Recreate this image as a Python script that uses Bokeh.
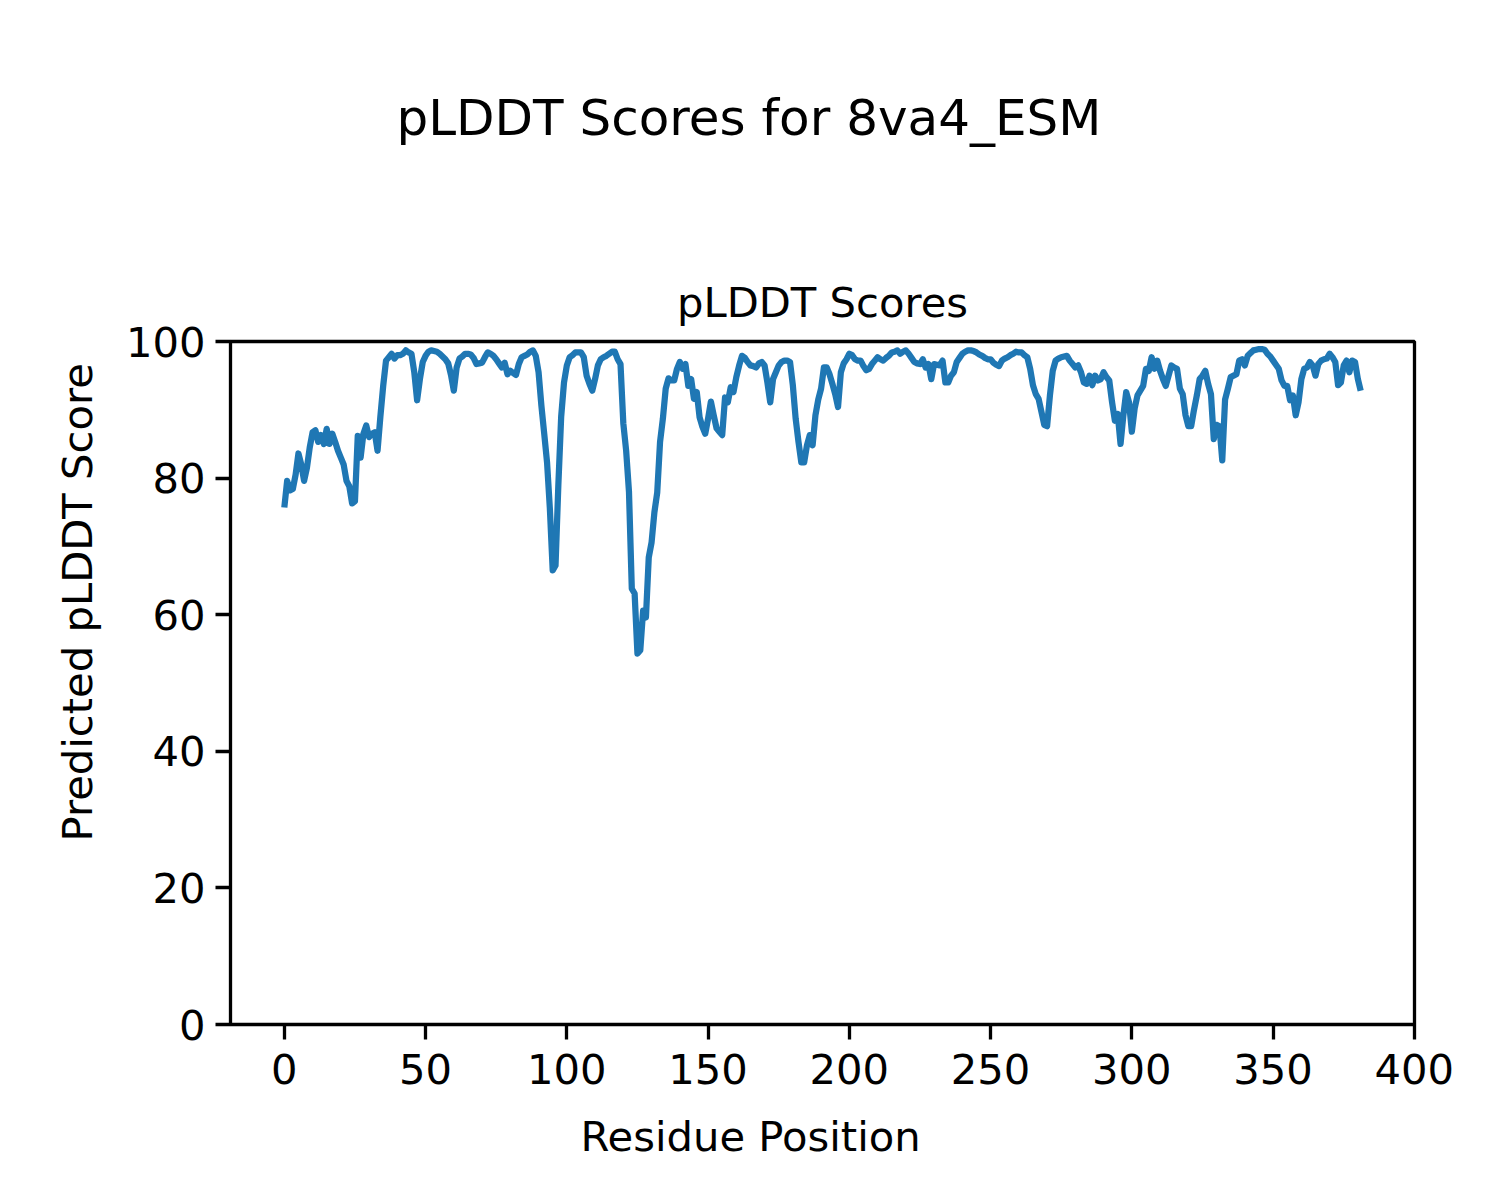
from bokeh.plotting import figure
from bokeh.models import Range1d, FixedTicker, Title
from bokeh.embed import file_html
from bokeh.resources import INLINE

suptitle = "pLDDT Scores for 8va4_ESM"
axes_title = "pLDDT Scores"
x_label = "Residue Position"
y_label = "Predicted pLDDT Score"
x_ticks = [0, 50, 100, 150, 200, 250, 300, 350, 400]
y_ticks = [0, 20, 40, 60, 80, 100]

scores_0_99 = [
    75.7, 79.6, 78.2, 78.4, 80.5, 83.6, 82.0, 79.6, 81.5, 84.5,
    86.7, 87.0, 85.3, 86.3, 85.0, 87.2, 85.0, 86.5, 85.3, 84.0,
    83.0, 82.0, 79.6, 78.8, 76.3, 76.6, 86.2, 83.0, 86.5, 87.7,
    86.0, 86.5, 86.7, 84.0, 89.0, 93.5, 97.2, 97.7, 98.2, 97.5,
    98.0, 98.0, 98.2, 98.7, 98.4, 98.2, 95.5, 91.4, 94.5, 97.0,
    97.9, 98.5, 98.7, 98.6, 98.5, 98.2, 97.8, 97.4, 96.8, 95.1,
    92.8, 96.2, 97.5, 97.8, 98.2, 98.2, 98.1, 97.6, 96.7, 96.8,
    96.9, 97.7, 98.4, 98.2, 97.9, 97.4, 96.8, 96.2, 96.9, 95.2,
    95.7, 95.4, 95.1, 96.7, 97.7, 97.9, 98.1, 98.5, 98.7, 97.9,
    95.5, 90.6, 86.5, 82.3, 75.5, 66.5, 67.2, 79.0, 89.0, 94.0,
]
scores_100_199 = [
    96.5, 97.7, 98.0, 98.4, 98.4, 98.4, 97.7, 95.0, 93.8, 92.8,
    94.5, 96.5, 97.4, 97.7, 97.9, 98.2, 98.5, 98.5, 97.4, 96.7,
    88.0, 84.0, 78.0, 63.8, 63.1, 54.3, 54.8, 60.6, 59.6, 68.4,
    70.6, 75.0, 77.9, 85.3, 88.7, 93.1, 94.6, 94.3, 94.3, 96.0,
    97.0, 96.0, 96.7, 93.5, 94.5, 91.6, 92.6, 88.9, 87.5, 86.5,
    88.7, 91.2, 89.2, 87.3, 86.8, 86.3, 91.8, 91.1, 93.3, 92.6,
    94.8, 96.5, 97.9, 97.6, 97.0, 96.5, 96.4, 96.2, 96.8, 97.0,
    96.5, 94.0, 91.1, 94.5, 95.5, 96.5, 97.0, 97.2, 97.2, 97.0,
    93.6, 88.7, 85.3, 82.3, 82.3, 84.8, 86.3, 84.8, 89.2, 91.5,
    93.1, 96.2, 96.2, 95.2, 93.8, 92.3, 90.4, 95.5, 96.8, 97.4,
]
scores_200_299 = [
    98.2, 98.0, 97.4, 97.2, 97.2, 96.4, 95.8, 96.0, 96.7, 97.2,
    97.7, 97.4, 97.2, 97.6, 97.9, 98.4, 98.5, 98.7, 98.2, 98.5,
    98.7, 98.2, 97.6, 97.0, 96.8, 96.7, 97.4, 96.2, 96.7, 94.5,
    96.7, 96.6, 96.5, 97.2, 94.0, 94.0, 95.0, 95.5, 97.0, 97.6,
    98.2, 98.5, 98.7, 98.7, 98.6, 98.4, 98.1, 97.9, 97.6, 97.4,
    97.4, 96.9, 96.6, 96.4, 97.2, 97.5, 97.7, 98.0, 98.2, 98.5,
    98.4, 98.4, 98.0, 97.7, 96.0, 93.6, 92.3, 91.6, 89.7, 87.8,
    87.6, 92.1, 95.7, 97.2, 97.5, 97.7, 97.8, 97.9, 97.2, 96.7,
    96.2, 96.5, 95.5, 94.0, 93.8, 95.0, 93.6, 95.0, 94.3, 94.5,
    95.5, 94.8, 94.3, 91.1, 88.4, 89.4, 85.0, 89.2, 92.6, 91.1,
]
scores_300_381 = [
    86.8, 90.2, 92.1, 92.8, 93.5, 96.0, 95.7, 97.7, 96.0, 97.2,
    95.7, 94.5, 93.5, 95.0, 96.5, 96.2, 96.0, 93.1, 92.3, 89.2,
    87.6, 87.6, 90.0, 92.1, 94.5, 95.0, 95.7, 93.8, 92.3, 85.7,
    87.8, 87.6, 82.6, 91.5, 93.1, 94.8, 95.0, 95.2, 97.2, 97.4,
    96.5, 97.9, 98.3, 98.7, 98.8, 98.9, 98.9, 98.8, 98.2, 97.8,
    97.2, 96.6, 96.0, 94.3, 93.5, 93.5, 91.4, 92.1, 89.2, 91.1,
    94.5, 96.0, 96.2, 97.0, 96.5, 95.0, 96.7, 97.2, 97.4, 97.5,
    98.2, 97.7, 97.0, 93.6, 94.0, 96.5, 97.2, 95.5, 97.2, 97.0,
    94.5, 92.8,
]
scores = scores_0_99 + scores_100_199 + scores_200_299 + scores_300_381
residues = list(range(len(scores)))

FONT = "DejaVu Sans"
W, H = 1500, 1200
L, R, T, B = 230, 86, 341, 176

p = figure(width=W, height=H, output_backend="svg", toolbar_location=None,
           x_range=Range1d(-19.05, 400.05), y_range=Range1d(0, 100),
           min_border_left=L, min_border_right=R, min_border_top=T, min_border_bottom=B)
p.background_fill_color = "white"
p.border_fill_color = "white"
p.outline_line_color = "black"
p.outline_line_width = 3.3
p.outline_line_alpha = 1.0
p.grid.visible = False

p.line(residues, scores, line_color="#1f77b4", line_width=6.25, line_join="round")

for ax, ticks in ((p.xaxis[0], x_ticks), (p.yaxis[0], y_ticks)):
    ax.ticker = FixedTicker(ticks=ticks)
    ax.axis_line_color = None
    ax.major_tick_line_color = "black"
    ax.major_tick_line_width = 3.3
    ax.major_tick_out = 15
    ax.major_tick_in = 0
    ax.minor_tick_line_color = None
    ax.major_label_text_font = FONT
    ax.major_label_text_font_size = "41.7px"
    ax.major_label_text_color = "black"
p.xaxis[0].major_label_standoff = 14
p.yaxis[0].major_label_standoff = 10

def make_title(text, size, standoff, align, offset):
    return Title(text=text, align=align, offset=offset, standoff=standoff,
                 text_font=FONT, text_font_size=size, text_font_style="normal",
                 text_color="black")

# panels above the frame, from the frame outward: axes title, spacer, figure title
p.title = make_title(suptitle, "50px", 172, "left", 166)
p.add_layout(make_title(axes_title, "41.7px", 30, "center", 0), "above")
p.add_layout(make_title(" ", "1px", 25, "center", 0), "above")
p.add_layout(make_title(x_label, "41.7px", 46, "left", 350), "below")
p.add_layout(make_title(y_label, "41.7px", 42, "left", 183), "left")

open("out.html", "w").write(file_html(p, INLINE))
